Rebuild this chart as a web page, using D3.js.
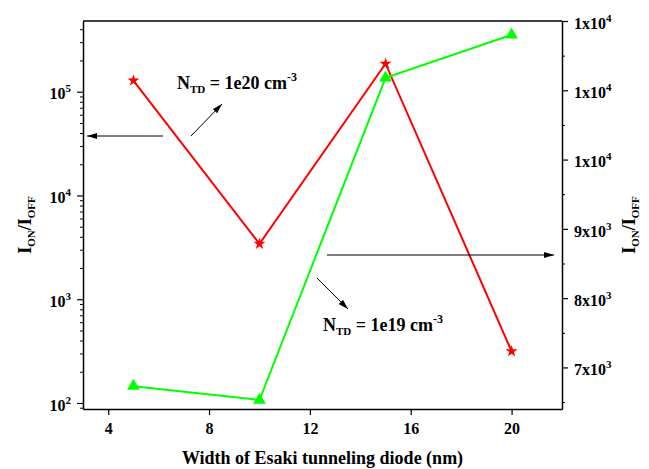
<!DOCTYPE html>
<html>
<head>
<meta charset="utf-8">
<script src="https://cdn.jsdelivr.net/npm/d3@7/dist/d3.min.js"></script>
<style>
  body { margin: 0; background: #fff; }
  text { font-family: "Liberation Serif", "Times New Roman", serif; font-weight: bold; }
</style>
</head>
<body>
<div id="chart"></div>
<script>
// data
const widths = [5, 10, 15, 20];
const ratio1e20 = [1.28e5, 3420, 1.86e5, 315];      // red stars, left log axis
const ratio1e19 = [6730, 6530, 11180, 11800];       // green triangles, right linear axis
const xTicks = [4, 8, 12, 16, 20];
const leftTicks = [1e2, 1e3, 1e4, 1e5];
const rightTicks = [7000, 8000, 9000, 10000, 11000, 12000];

const W = 649, H = 469;
const margin = {top: 21, right: 87, bottom: 60, left: 83};
const iw = W - margin.left - margin.right;
const ih = H - margin.top - margin.bottom;

const svg = d3.select("#chart").append("svg")
    .attr("width", W).attr("height", H);

// arrow head
svg.append("defs").append("marker")
    .attr("id", "head")
    .attr("viewBox", "0 0 10 6")
    .attr("refX", 10).attr("refY", 3)
    .attr("markerWidth", 10).attr("markerHeight", 6)
    .attr("markerUnits", "userSpaceOnUse")
    .attr("orient", "auto")
    .append("path").attr("d", "M0,0 L10,3 L0,6 Z").attr("fill", "#000");

const g = svg.append("g").attr("transform", `translate(${margin.left},${margin.top})`);

const x = d3.scaleLinear().domain([3, 22]).range([0, iw]);
const yL = d3.scaleLog().domain([87.5, 4.8e5]).range([ih, 0]);
const yR = d3.scaleLinear().domain([6400, 12000]).range([ih, 0]);

// minor ticks for the log axis
const minorL = [];
for (let e = 1; e <= 5; e++) {
    for (let m = 2; m <= 9; m++) {
        const v = m * Math.pow(10, e);
        if (v >= yL.domain()[0] && v <= yL.domain()[1]) minorL.push(v);
    }
}
const minorR = rightTicks.slice(0, -1).map(v => v + 500).concat([6500]);

function styleAxis(sel) {
    sel.select(".domain").attr("stroke", "#000").attr("stroke-width", 1.5);
    sel.selectAll(".tick line").attr("stroke", "#000").attr("stroke-width", 1.2);
    sel.selectAll("text").attr("fill", "#000").style("font-size", "16px");
}

// x axis
const gx = g.append("g").attr("transform", `translate(0,${ih})`)
    .call(d3.axisBottom(x).tickValues(xTicks).tickSize(6).tickPadding(8).tickSizeOuter(0));
styleAxis(gx);

// top frame
g.append("line").attr("x1", 0).attr("x2", iw).attr("y1", 0).attr("y2", 0)
    .attr("stroke", "#000").attr("stroke-width", 1.5);

// left log axis
g.append("g").call(d3.axisLeft(yL).tickValues(minorL).tickSize(3).tickFormat(""))
    .call(s => { s.select(".domain").remove(); s.selectAll("line").attr("stroke", "#000"); });
const gl = g.append("g")
    .call(d3.axisLeft(yL).tickValues(leftTicks).tickSize(6).tickPadding(6).tickSizeOuter(0));
styleAxis(gl);
gl.selectAll(".tick text").each(function(d) {
    const t = d3.select(this).text("");
    t.append("tspan").text("10");
    t.append("tspan").attr("dy", -7).style("font-size", "11px").text(Math.round(Math.log10(d)));
}).attr("dy", "0.45em");

// right linear axis
g.append("g").attr("transform", `translate(${iw},0)`)
    .call(d3.axisRight(yR).tickValues(minorR).tickSize(3).tickFormat(""))
    .call(s => { s.select(".domain").remove(); s.selectAll("line").attr("stroke", "#000"); });
const gr = g.append("g").attr("transform", `translate(${iw},0)`)
    .call(d3.axisRight(yR).tickValues(rightTicks).tickSize(6).tickPadding(6).tickSizeOuter(0));
styleAxis(gr);
gr.selectAll(".tick text").each(function(d) {
    const e = Math.floor(Math.log10(d));
    const m = Math.round(d / Math.pow(10, e));
    const t = d3.select(this).text("");
    t.append("tspan").text(m + "x10");
    t.append("tspan").attr("dy", -7).style("font-size", "11px").text(e);
}).attr("dy", "0.45em");

// series
const line1 = d3.line().x((d, i) => x(widths[i])).y(d => yL(d));
const line2 = d3.line().x((d, i) => x(widths[i])).y(d => yR(d));

g.append("path").datum(ratio1e20).attr("d", line1)
    .attr("fill", "none").attr("stroke", "#ff0000").attr("stroke-width", 2);
g.append("path").datum(ratio1e19).attr("d", line2)
    .attr("fill", "none").attr("stroke", "#00ff00").attr("stroke-width", 2);

g.selectAll(".star").data(ratio1e20).enter().append("path")
    .attr("class", "star")
    .attr("transform", (d, i) => `translate(${x(widths[i])},${yL(d)})`)
    .attr("d", d3.symbol(d3.symbolStar).size(45))
    .attr("fill", "#ff0000");
g.selectAll(".tri").data(ratio1e19).enter().append("path")
    .attr("class", "tri")
    .attr("transform", (d, i) => `translate(${x(widths[i])},${yR(d)})`)
    .attr("d", d3.symbol(d3.symbolTriangle).size(70))
    .attr("fill", "#00ff00");

// annotations
function arrow(x1, y1, x2, y2) {
    svg.append("line").attr("x1", x1).attr("y1", y1).attr("x2", x2).attr("y2", y2)
        .attr("stroke", "#000").attr("stroke-width", 1).attr("marker-end", "url(#head)");
}
arrow(163, 136, 87, 136);
arrow(191, 136, 222, 104);
arrow(327, 255, 554, 255);
arrow(317, 278, 348, 309);

function nLabel(px, py, val) {
    const t = svg.append("text").attr("x", px).attr("y", py).style("font-size", "18px");
    t.append("tspan").text("N");
    t.append("tspan").attr("dy", 4).style("font-size", "11px").text("TD");
    t.append("tspan").attr("dy", -4).text(" = " + val + " cm");
    t.append("tspan").attr("dy", -8).style("font-size", "12px").text("-3");
}
nLabel(177, 89, "1e20");
nLabel(323, 331, "1e19");

// axis titles
function ratioTitle(px, py) {
    const t = svg.append("text")
        .attr("transform", `translate(${px},${py}) rotate(-90)`)
        .attr("text-anchor", "middle").style("font-size", "18px");
    t.append("tspan").text("I");
    t.append("tspan").attr("dy", 4).style("font-size", "11px").text("ON");
    t.append("tspan").attr("dy", -4).text("/I");
    t.append("tspan").attr("dy", 4).style("font-size", "11px").text("OFF");
}
ratioTitle(31, 225);
ratioTitle(635, 225);

svg.append("text").attr("x", margin.left + iw / 2).attr("y", 464)
    .attr("text-anchor", "middle").style("font-size", "18px")
    .text("Width of Esaki tunneling diode (nm)");
</script>
</body>
</html>
